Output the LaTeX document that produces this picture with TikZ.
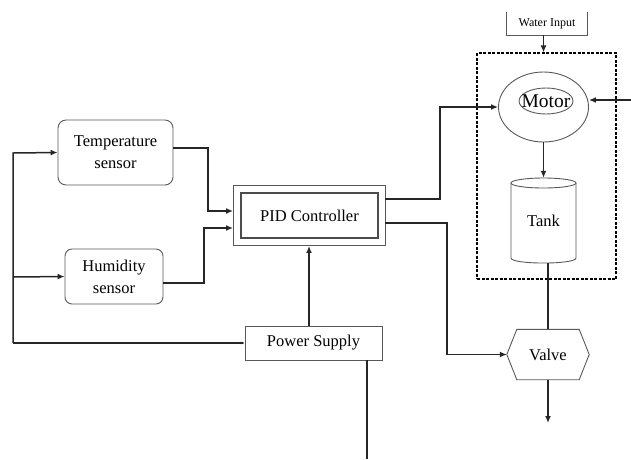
\documentclass[tikz,border=0pt]{standalone}
\usepackage{fontspec}
\setmainfont{Liberation Serif}
\newfontfamily\dfont{Liberation Serif}
\usetikzlibrary{arrows.meta,shapes.geometric}
\begin{document}
\begin{tikzpicture}[x=1pt,y=-1pt,
  every node/.style={font=\dfont\fontsize{16.5}{22}\selectfont, text=black, inner sep=0pt},
  box/.style={draw=black!65, line width=0.9pt},
  conn/.style={draw=black!85, line width=1.5pt},
  arr/.style={conn, -{Latex[length=7pt,width=6pt]}},
]
\useasboundingbox (0,0) rectangle (631,459);
% blocks
\node[box, rounded corners=8pt, minimum width=115, minimum height=65, align=center] (temp) at (115.5,152.5) {Temperature\\sensor};
\node[box, rounded corners=7pt, minimum width=98, minimum height=55, align=center] (hum) at (114,276.5) {Humidity\\sensor};
\node[box, minimum width=152, minimum height=60] (pidout) at (309,215.5) {};
\node[draw=black!70, line width=1.8pt, minimum width=137, minimum height=45] (pid) at (309.5,215.5) {PID Controller};
\node[box, minimum width=137, minimum height=34] (ps) at (313.5,343) {Power Supply};
\node[draw=black, line width=1.1pt, dash pattern=on 3pt off 1.5pt, minimum width=139, minimum height=226] (sys) at (546.5,166) {};
\node[minimum width=80, minimum height=23, font=\dfont\fontsize{12}{14}\selectfont] (wi) at (547,23.5) {Water Input};
\draw[box] (wi.north west) -- (wi.south west) -- (wi.south east) -- (wi.north east);
\node[box, ellipse, minimum width=90, minimum height=70] (motor) at (543.5,107) {};
\draw[box] (546,101) ellipse [x radius=27, y radius=13];
\node[font=\dfont\fontsize{19.5}{24}\selectfont] (motort) at (546,101) {Motor};
\node[minimum width=65, minimum height=85] (tank) at (543.5,220.5) {Tank};
\draw[box] (543.5,183) ellipse [x radius=32.5, y radius=5];
\draw[box] (511,183) -- (511,258) .. controls (511,264.7) and (576,264.7) .. (576,258) -- (576,183);
\node[minimum width=82, minimum height=50] (valve) at (548,354.5) {Valve};
\draw[box] ([xshift=10pt]valve.north west) -- ([xshift=-10pt]valve.north east) -- (valve.east) -- ([xshift=-10pt]valve.south east) -- ([xshift=10pt]valve.south west) -- (valve.west) -- cycle;
% free ends
\coordinate (pidA) at (385,199);
\coordinate (pidB) at (385,223);
\coordinate (tIn) at (233,211);
\coordinate (hIn) at (233,228);
\coordinate (bus) at (13,343);
\coordinate (mright) at (631,100);
\coordinate (vout) at (548,423);
\coordinate (psend) at (367,459);
\coordinate (psup) at (309,326);
% connectors
\draw[arr] ([xshift=-3.5pt]wi.south) -- ([xshift=-3.5pt]wi.south |- sys.north);
\draw[arr] (pidA) -- (440,199) -- (440,107) -- (motor.west);
\draw[arr] (mright) -- ([yshift=7pt]motor.east);
\draw[arr] (motor.south) -- (tank.north);
\draw[conn] (valve.north |- tank.south) -- (valve.north);
\draw[arr] (valve.south) -- (vout);
\draw[arr] (pidB) -- (447,223) |- (valve.west);
\draw[arr] ([yshift=4.5pt]temp.east) -| (208,211) -- (tIn);
\draw[arr] ([yshift=-6.5pt]hum.east) -| (204,228) -- (hIn);
\draw[conn, -{Latex[length=3pt,width=3pt]}] (bus) -- (ps.west);
\draw[arr] (bus) -- (13,153) -- (temp.west);
\draw[arr] (13,277) -- (hum.west);
\draw[arr] (psup) -- (psup |- pidout.south);
\draw[conn] (ps.south -| psend) -- (psend);
\end{tikzpicture}
\end{document}
